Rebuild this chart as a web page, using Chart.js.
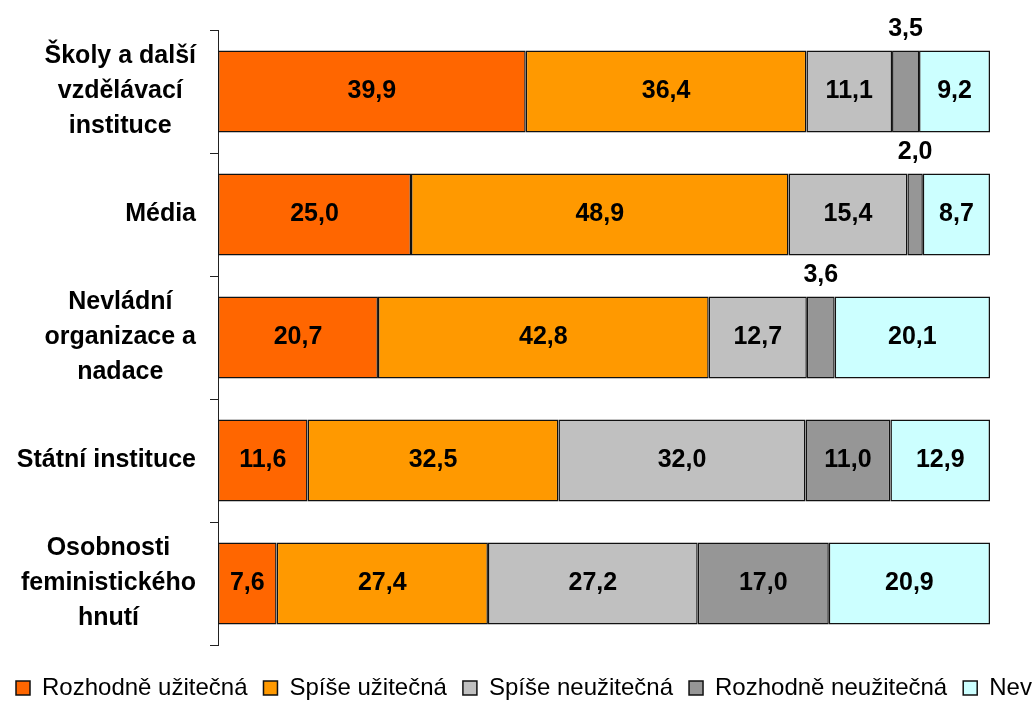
<!DOCTYPE html>
<html>
<head>
<meta charset="utf-8">
<script src="https://cdn.jsdelivr.net/npm/chart.js@4/dist/chart.umd.min.js"></script>
<style>
  html, body { margin: 0; padding: 0; background: #fff; overflow: hidden; }
  .wrap { width: 1090px; height: 710px; position: relative; }
</style>
</head>
<body>
<div class="wrap"><canvas id="chart"></canvas></div>
<script>
// data
const categories = [
  ['Školy a další', 'vzdělávací', 'instituce'],
  ['Média'],
  ['Nevládní', 'organizace a', 'nadace'],
  ['Státní instituce'],
  ['Osobnosti', 'feministického', 'hnutí']
]
const seriesNames = ['Rozhodně užitečná', 'Spíše užitečná', 'Spíše neužitečná', 'Rozhodně neužitečná', 'Neví']
const rozhodneUzitecna = [39.9, 25.0, 20.7, 11.6, 7.6]
const spiseUzitecna = [36.4, 48.9, 42.8, 32.5, 27.4]
const spiseNeuzitecna = [11.1, 15.4, 12.7, 32.0, 27.2]
const rozhodneNeuzitecna = [3.5, 2.0, 3.6, 11.0, 17.0]
const nevi = [9.2, 8.7, 20.1, 12.9, 20.9]
const colors = ['#FF6600', '#FF9900', '#C0C0C0', '#969696', '#CCFFFF']

const allSeries = [rozhodneUzitecna, spiseUzitecna, spiseNeuzitecna, rozhodneNeuzitecna, nevi]
const FONT = '"Liberation Sans", Arial, sans-serif'

// 100% stacked: share of each row total
const totals = categories.map(function (c, i) {
  return allSeries.reduce(function (s, arr) { return s + arr[i] }, 0)
})

function fmt(v) {
  return v.toFixed(1).replace('.', ',')
}

// start: plugins
const valueLabels = {
  id: 'valueLabels',
  afterDatasetsDraw(chart) {
    const ctx = chart.ctx
    ctx.save()
    ctx.font = 'bold 25px ' + FONT
    ctx.fillStyle = '#000'
    ctx.textAlign = 'center'
    ctx.textBaseline = 'middle'
    chart.data.datasets.forEach(function (ds, di) {
      chart.getDatasetMeta(di).data.forEach(function (bar, i) {
        const v = ds.rawValues[i]
        const cx = (bar.x + bar.base) / 2
        let cy = bar.y
        if (v < 5) cy = bar.y - bar.height / 2 - 21
        ctx.fillText(fmt(v), cx, cy)
      })
    })
    ctx.restore()
  }
}

const categoryLabels = {
  id: 'categoryLabels',
  afterDraw(chart) {
    const ctx = chart.ctx
    const yScale = chart.scales.y
    const lineH = 35
    ctx.save()
    ctx.font = 'bold 25px ' + FONT
    ctx.fillStyle = '#000'
    ctx.textAlign = 'center'
    ctx.textBaseline = 'middle'
    categories.forEach(function (lines, i) {
      const y = yScale.getPixelForValue(i)
      const maxW = Math.max.apply(null, lines.map(function (l) { return ctx.measureText(l).width }))
      const cx = 196 - maxW / 2
      const y0 = y - (lines.length - 1) * lineH / 2
      lines.forEach(function (l, k) {
        ctx.fillText(l, cx, y0 + k * lineH)
      })
    })
    ctx.restore()
  }
}
// end: plugins

Chart.defaults.font.family = FONT
Chart.defaults.color = '#000'

new Chart(document.getElementById('chart'), {
  type: 'bar',
  data: {
    labels: categories,
    datasets: allSeries.map(function (arr, si) {
      return {
        label: seriesNames[si],
        data: arr.map(function (v, i) { return v / totals[i] * 100 }),
        rawValues: arr,
        backgroundColor: colors[si],
        borderColor: '#111',
        borderWidth: 1.5,
        borderSkipped: false,
        categoryPercentage: 1,
        barPercentage: 0.667
      }
    })
  },
  options: {
    indexAxis: 'y',
    responsive: true,
    maintainAspectRatio: false,
    animation: false,
    layout: { padding: { top: 30, bottom: 0, left: 0, right: 0 } },
    scales: {
      x: {
        stacked: true,
        min: 0,
        max: 100,
        display: true,
        ticks: { display: false },
        grid: { display: false },
        border: { display: false },
        afterFit: function (s) { s.height = 15 }
      },
      y: {
        stacked: true,
        offset: true,
        ticks: { display: false },
        grid: { offset: true, drawOnChartArea: false, tickLength: 8, color: '#222' },
        border: { display: true, color: '#222', width: 1 },
        afterFit: function (s) { s.width = 218 }
      },
      yRight: {
        position: 'right',
        display: true,
        ticks: { display: false },
        grid: { display: false },
        border: { display: false },
        afterFit: function (s) { s.width = 100 }
      }
    },
    plugins: {
      legend: {
        position: 'bottom',
        align: 'start',
        labels: {
          boxWidth: 14,
          boxHeight: 14,
          padding: 16,
          color: '#000',
          font: { size: 24 }
        }
      },
      tooltip: { enabled: false }
    }
  },
  plugins: [valueLabels, categoryLabels]
})
</script>
</body>
</html>
